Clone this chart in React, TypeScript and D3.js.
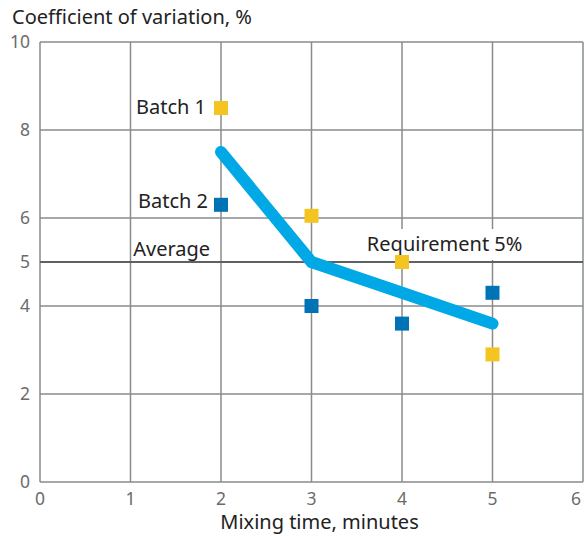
import * as d3 from "d3";
import { useEffect, useRef } from "react";

const minutes = [2, 3, 4, 5];
const batch1 = [8.5, 6.05, 5.0, 2.9];
const batch2 = [6.3, 4.0, 3.6, 4.3];
const average = [7.5, 5.0, 4.3, 3.6];
const xTicks = [0, 1, 2, 3, 4, 5, 6];
const yTicks = [0, 2, 4, 5, 6, 8, 10];
const requirement = 5;

const FONT = "'Noto Sans', sans-serif";
const LABEL_SIZE = 20;

export default function App() {
  const ref = useRef<SVGSVGElement | null>(null);

  useEffect(() => {
    if (!ref.current) return;
    const width = 584;
    const height = 536;
    const margin = { top: 42, right: 1, bottom: 54, left: 40 };
    const innerW = width - margin.left - margin.right;
    const innerH = height - margin.top - margin.bottom;

    const x = d3.scaleLinear().domain([0, 6]).range([0, innerW]);
    const y = d3.scaleLinear().domain([0, 10]).range([innerH, 0]);

    const svg = d3.select(ref.current);
    svg.selectAll("*").remove();

    svg
      .append("text")
      .attr("x", 12)
      .attr("y", 24)
      .attr("font-family", FONT)
      .attr("font-size", LABEL_SIZE)
      .attr("fill", "#222")
      .text("Coefficient of variation, %");

    svg
      .append("text")
      .attr("x", margin.left + x(3) + 8)
      .attr("y", 529)
      .attr("text-anchor", "middle")
      .attr("font-family", FONT)
      .attr("font-size", LABEL_SIZE)
      .attr("fill", "#222")
      .text("Mixing time, minutes");

    const g = svg.append("g").attr("transform", `translate(${margin.left},${margin.top})`);

    // grid
    g.selectAll(".vgrid")
      .data(xTicks)
      .join("line")
      .attr("x1", (d) => x(d))
      .attr("x2", (d) => x(d))
      .attr("y1", 0)
      .attr("y2", innerH)
      .attr("stroke", "#8a8c8c")
      .attr("stroke-width", 1.5);

    g.selectAll(".hgrid")
      .data(yTicks.filter((d) => d !== requirement))
      .join("line")
      .attr("x1", 0)
      .attr("x2", innerW)
      .attr("y1", (d) => y(d))
      .attr("y2", (d) => y(d))
      .attr("stroke", "#8a8c8c")
      .attr("stroke-width", 1.5);

    g.append("line")
      .attr("x1", 0)
      .attr("x2", innerW)
      .attr("y1", y(requirement))
      .attr("y2", y(requirement))
      .attr("stroke", "#5f6262")
      .attr("stroke-width", 2.2);

    // tick labels
    g.selectAll(".ylab")
      .data(yTicks)
      .join("text")
      .attr("x", -10)
      .attr("y", (d) => y(d))
      .attr("dy", "0.36em")
      .attr("text-anchor", "end")
      .attr("font-family", FONT)
      .attr("font-size", 17.5)
      .attr("fill", "#6b6b6b")
      .text((d) => d);

    g.selectAll(".xlab")
      .data(xTicks)
      .join("text")
      .attr("x", (d) => (d === 6 ? x(d) - 2 : x(d)))
      .attr("y", innerH + 23)
      .attr("text-anchor", (d) => (d === 6 ? "end" : "middle"))
      .attr("font-family", FONT)
      .attr("font-size", 17.5)
      .attr("fill", "#6b6b6b")
      .text((d) => d);

    // annotations
    g.append("rect")
      .attr("x", x(3.35))
      .attr("y", y(requirement) - 33)
      .attr("width", x(5.55) - x(3.35))
      .attr("height", 31)
      .attr("fill", "#fff");

    g.append("text")
      .attr("x", x(5.33))
      .attr("y", y(requirement) - 11)
      .attr("text-anchor", "end")
      .attr("font-family", FONT)
      .attr("font-size", LABEL_SIZE)
      .attr("fill", "#222")
      .text("Requirement 5%");

    g.append("text")
      .attr("x", x(1.03))
      .attr("y", y(requirement) - 6)
      .attr("font-family", FONT)
      .attr("font-size", LABEL_SIZE)
      .attr("fill", "#222")
      .text("Average");

    g.append("text")
      .attr("x", x(minutes[0]) - 15)
      .attr("y", y(batch1[0]) + 6)
      .attr("text-anchor", "end")
      .attr("font-family", FONT)
      .attr("font-size", LABEL_SIZE)
      .attr("fill", "#222")
      .text("Batch 1");

    g.append("text")
      .attr("x", x(minutes[0]) - 13)
      .attr("y", y(batch2[0]) + 3)
      .attr("text-anchor", "end")
      .attr("font-family", FONT)
      .attr("font-size", LABEL_SIZE)
      .attr("fill", "#222")
      .text("Batch 2");

    // average line
    const line = d3
      .line<number>()
      .x((_, i) => x(minutes[i]))
      .y((d) => y(d));

    g.append("path")
      .datum(average)
      .attr("fill", "none")
      .attr("stroke", "#00a9e6")
      .attr("stroke-width", 12)
      .attr("stroke-linecap", "round")
      .attr("stroke-linejoin", "miter")
      .attr("d", line);

    const size = 14;
    const drawSquares = (vals: number[], color: string) => {
      g.append("g")
        .selectAll("rect")
        .data(vals)
        .join("rect")
        .attr("x", (_, i) => x(minutes[i]) - size / 2)
        .attr("y", (d) => y(d) - size / 2)
        .attr("width", size)
        .attr("height", size)
        .attr("fill", color);
    };
    drawSquares(batch1, "#f4c521");
    drawSquares(batch2, "#0072b6");
  }, []);

  return <svg ref={ref} width={584} height={536} style={{ position: "absolute", left: 0, top: 0 }} />;
}
